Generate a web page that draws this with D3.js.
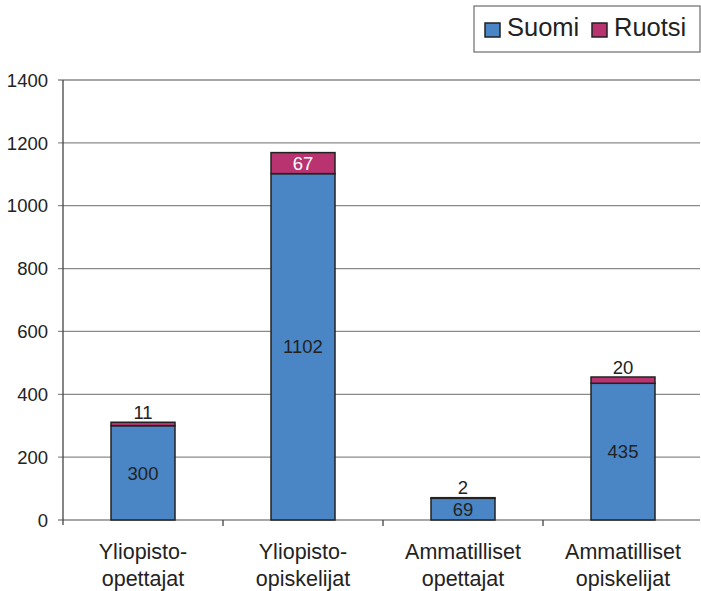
<!DOCTYPE html>
<html><head><meta charset="utf-8">
<script src="https://cdn.jsdelivr.net/npm/d3@7"></script>
<style>body{margin:0;background:#fff}svg{display:block;font-family:"Liberation Sans",Arial,sans-serif}</style>
</head><body><svg id="c" width="701" height="591"></svg>
<script>
const categories = [["Yliopisto-","opettajat"],["Yliopisto-","opiskelijat"],["Ammatilliset","opettajat"],["Ammatilliset","opiskelijat"]];
const suomi = [300, 1102, 69, 435];
const ruotsi = [11, 67, 2, 20];
const seriesNames = ["Suomi","Ruotsi"];
const colors = ["#4a86c6","#b8336f"];
const yTicks = [0,200,400,600,800,1000,1200,1400];

const svg = d3.select("#c");
const m = {l:63, r:703, t:80, b:520};
const x = d3.scaleBand().domain(d3.range(categories.length)).range([m.l, m.r]).paddingInner(0).paddingOuter(0);
const y = d3.scaleLinear().domain([0,1400]).range([m.b, m.t]);
const bw = x.bandwidth()*0.4;

svg.append("g").selectAll("line").data(yTicks).join("line")
  .attr("x1", m.l-5).attr("x2", 700).attr("y1", d=>y(d)).attr("y2", d=>y(d))
  .attr("stroke","#8a8a8a").attr("stroke-width",1.3);
svg.append("g").selectAll("text").data(yTicks).join("text")
  .attr("x", 48).attr("y", d=>y(d)).attr("dy","0.36em").attr("text-anchor","end")
  .attr("font-size",18.5).attr("fill","#222").text(d=>d);
svg.append("line").attr("x1",m.l).attr("x2",m.l).attr("y1",m.t).attr("y2",m.b+5).attr("stroke","#444").attr("stroke-width",1.3);
svg.append("g").selectAll("line").data(d3.range(1,categories.length)).join("line")
  .attr("x1",d=>x(d)).attr("x2",d=>x(d)).attr("y1",m.b).attr("y2",m.b+6).attr("stroke","#444").attr("stroke-width",1.3);

const stack = d3.stack().keys([0,1])(suomi.map((v,i)=>({0:v,1:ruotsi[i]})));
stack.forEach((layer,si)=>{
  svg.append("g").selectAll("rect").data(layer).join("rect")
    .attr("x",(d,i)=>x(i)+x.bandwidth()/2-bw/2).attr("width",bw)
    .attr("y",d=>y(d[1])).attr("height",d=>y(d[0])-y(d[1]))
    .attr("fill",colors[si]).attr("stroke","#222").attr("stroke-width",1.5);
});
svg.append("g").selectAll("text").data(stack[0]).join("text")
  .attr("x",(d,i)=>x(i)+x.bandwidth()/2)
  .attr("y",d=>(y(d[0])+y(d[1]))/2).attr("dy","0.36em").attr("text-anchor","middle")
  .attr("font-size",18.5).attr("fill","#222").text((d,i)=>suomi[i]);
svg.append("g").selectAll("text").data(stack[1]).join("text")
  .attr("x",(d,i)=>x(i)+x.bandwidth()/2)
  .attr("y",(d,i)=>{ const h=y(d[0])-y(d[1]); return h>18 ? (y(d[0])+y(d[1]))/2 : y(d[1])-10; })
  .attr("dy","0.36em").attr("text-anchor","middle")
  .attr("font-size",18.5).attr("fill",(d)=> (y(d[0])-y(d[1]))>18 ? "#fff" : "#222").text((d,i)=>ruotsi[i]);
const cl = svg.append("g").selectAll("text").data(categories).join("text")
  .attr("x",(d,i)=>x(i)+x.bandwidth()/2).attr("y",559).attr("text-anchor","middle")
  .attr("font-size",21.5).attr("fill","#222");
cl.selectAll("tspan").data(d=>d).join("tspan")
  .attr("x",function(){return this.parentNode.getAttribute("x");})
  .attr("dy",(d,j)=>j===0?0:27).text(d=>d);

const lg = svg.append("g");
lg.append("rect").attr("x",474).attr("y",6).attr("width",226).attr("height",46).attr("fill","#fff").attr("stroke","#777").attr("stroke-width",1.3);
const lx = [485, 592];
seriesNames.forEach((n,i)=>{
  lg.append("rect").attr("x",lx[i]).attr("y",23).attr("width",15).attr("height",14).attr("fill",colors[i]).attr("stroke","#222").attr("stroke-width",1.5);
  lg.append("text").attr("x",lx[i]+22).attr("y",36).attr("font-size",25.5).attr("fill","#222").text(n);
});
</script></body></html>
